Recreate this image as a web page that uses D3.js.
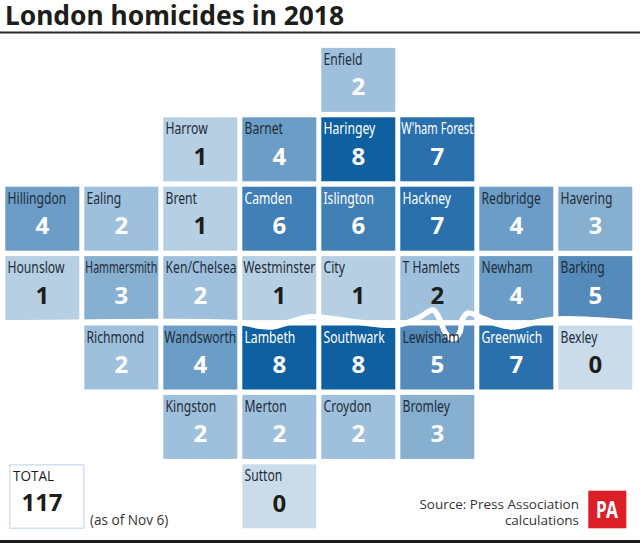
<!DOCTYPE html>
<html>
<head>
<meta charset="utf-8">
<script src="https://d3js.org/d3.v7.min.js"></script>
<style>
  html, body { margin: 0; padding: 0; background: #fff; }
  svg { display: block; }
  .name { font-family: "Noto Sans", sans-serif; font-size: 16px; }
  .num { font-family: "Open Sans", sans-serif; font-size: 24px; font-weight: 700; text-anchor: middle; }
</style>
</head>
<body>
<div id="chart"></div>
<script>
(function() {
  // tile map layout, one list per row
  var row0 = ["", "", "", "", "Enfield", "", "", ""];
  var row1 = ["", "", "Harrow", "Barnet", "Haringey", "W'ham Forest", "", ""];
  var row2 = ["Hillingdon", "Ealing", "Brent", "Camden", "Islington", "Hackney", "Redbridge", "Havering"];
  var row3 = ["Hounslow", "Hammersmith", "Ken/Chelsea", "Westminster", "City", "T Hamlets", "Newham", "Barking"];
  var row4 = ["", "Richmond", "Wandsworth", "Lambeth", "Southwark", "Lewisham", "Greenwich", "Bexley"];
  var row5 = ["", "", "Kingston", "Merton", "Croydon", "Bromley", "", ""];
  var row6 = ["", "", "", "Sutton", "", "", "", ""];

  var val0 = [2];
  var val1 = [1, 4, 8, 7];
  var val2 = [4, 2, 1, 6, 6, 7, 4, 3];
  var val3 = [1, 3, 2, 1, 1, 2, 4, 5];
  var val4 = [2, 4, 8, 8, 5, 7, 0];
  var val5 = [2, 2, 2, 3];
  var val6 = [0];

  var rows = [row0, row1, row2, row3, row4, row5, row6];
  var vals = [val0, val1, val2, val3, val4, val5, val6];
  var total = 117;

  var shades = ["#cadcea", "#b6cfe2", "#9fc0dc", "#87afd0", "#6c9dc6", "#548bbb", "#4080b6", "#2a70ad", "#0f60a0"];

  var W = 640, H = 543;

  var cells = [];
  rows.forEach(function(r, ri) {
    var k = 0;
    r.forEach(function(name, ci) {
      if (name) {
        cells.push({name: name, col: ci, row: ri, value: vals[ri][k]});
        k++;
      }
    });
  });

  var x = d3.scaleBand().domain(d3.range(8)).range([5.3, 632.3]).paddingInner(5 / 79).paddingOuter(0);
  var y = d3.scaleBand().domain(d3.range(7)).range([47.9, 528.3]).paddingInner(5.4 / 69.4).paddingOuter(0);
  var color = d3.scaleOrdinal().domain(d3.range(9)).range(shades);

  var svg = d3.select("#chart").append("svg")
    .attr("width", W)
    .attr("height", H);

  svg.append("text")
    .attr("x", 5)
    .attr("y", 25)
    .attr("font-family", "'Noto Sans', sans-serif")
    .attr("font-weight", 700)
    .attr("font-size", 27.5)
    .attr("textLength", 339)
    .attr("lengthAdjust", "spacingAndGlyphs")
    .attr("fill", "#1d1d1b")
    .text("London homicides in 2018");

  svg.append("rect").attr("x", 0).attr("y", 31.5).attr("width", W).attr("height", 2).attr("fill", "#2b2b2b");
  svg.append("rect").attr("x", 0).attr("y", 540).attr("width", W).attr("height", 3).attr("fill", "#1d1d1b");

  var tile = svg.selectAll("g.tile")
    .data(cells)
    .enter()
    .append("g")
    .attr("class", "tile")
    .attr("transform", function(d) {
      return "translate(" + x(d.col) + "," + y(d.row) + ")";
    });

  tile.append("rect")
    .attr("width", x.bandwidth())
    .attr("height", y.bandwidth())
    .attr("fill", function(d) { return color(d.value); });

  // the Thames, over the tiles but under the labels
  var riverX = [0, 243, 258, 272, 290, 308, 335, 357, 398, 420, 433, 440, 445, 453, 460, 462, 468, 480, 497, 513, 537, 557, 640];
  var riverY = [323, 323, 326, 327, 322, 317, 319, 322, 325, 317, 310, 320, 332, 339, 332, 320, 313, 317, 324, 327, 322, 319, 323];
  var river = d3.line()
    .x(function(d) { return riverX[d]; })
    .y(function(d) { return riverY[d]; })
    .curve(d3.curveCatmullRom);

  svg.append("path")
    .attr("d", river(d3.range(riverX.length)))
    .attr("fill", "none")
    .attr("stroke", "#fff")
    .attr("stroke-width", 5.5);

  var label = svg.selectAll("text.name")
    .data(cells)
    .enter()
    .append("text")
    .attr("class", "name")
    .attr("fill", function(d) { return d.value >= 6 ? "#fff" : "#1f2d3a"; })
    .text(function(d) { return d.name; });

  // squeeze the long names so they stay inside the tile
  label.attr("transform", function(d) {
    var s = Math.min(0.76, 72 / this.getComputedTextLength());
    var pad = s < 0.76 ? 1 : 2.2;
    return "translate(" + (x(d.col) + pad) + "," + (y(d.row) + 17) + ") scale(" + s + ",1)";
  });

  tile.append("text")
    .attr("class", "num")
    .attr("x", x.bandwidth() / 2)
    .attr("y", 47.5)
    .attr("fill", function(d) {
      return d.value < 2 || d.name === "T Hamlets" ? "#1d1d1b" : "#fff";
    })
    .text(function(d) { return d.value; });

  // total box
  svg.append("rect")
    .attr("x", 9.8).attr("y", 464.8).attr("width", 74).attr("height", 63.5)
    .attr("fill", "#fff").attr("stroke", "#d3e1ed").attr("stroke-width", 1.5);
  svg.append("text")
    .attr("x", 13).attr("y", 481)
    .attr("font-family", "'Open Sans', sans-serif").attr("font-size", 14)
    .attr("textLength", 41).attr("lengthAdjust", "spacingAndGlyphs")
    .attr("fill", "#1d1d1b").text("TOTAL");
  svg.append("text")
    .attr("class", "num")
    .attr("x", 42).attr("y", 511)
    .attr("fill", "#1d1d1b").text(total);

  svg.append("text")
    .attr("x", 90).attr("y", 525)
    .attr("font-family", "'Open Sans', sans-serif").attr("font-size", 13.6)
    .attr("fill", "#333").text("(as of Nov 6)");

  svg.append("text")
    .attr("x", 579).attr("y", 509)
    .attr("text-anchor", "end")
    .attr("font-family", "'Open Sans', sans-serif").attr("font-size", 13.5)
    .attr("fill", "#333").text("Source: Press Association");
  svg.append("text")
    .attr("x", 579).attr("y", 524.5)
    .attr("text-anchor", "end")
    .attr("font-family", "'Open Sans', sans-serif").attr("font-size", 13.5)
    .attr("fill", "#333").text("calculations");

  svg.append("rect")
    .attr("x", 588.3).attr("y", 490.7).attr("width", 38).attr("height", 37.6)
    .attr("fill", "#dc1f26");
  svg.append("text")
    .attr("transform", "translate(607,518) scale(0.72,1)")
    .attr("text-anchor", "middle")
    .attr("font-family", "'Noto Sans', sans-serif")
    .attr("font-weight", 700).attr("font-size", 24)
    .attr("fill", "#fff").text("PA");
})();
</script>
</body>
</html>
